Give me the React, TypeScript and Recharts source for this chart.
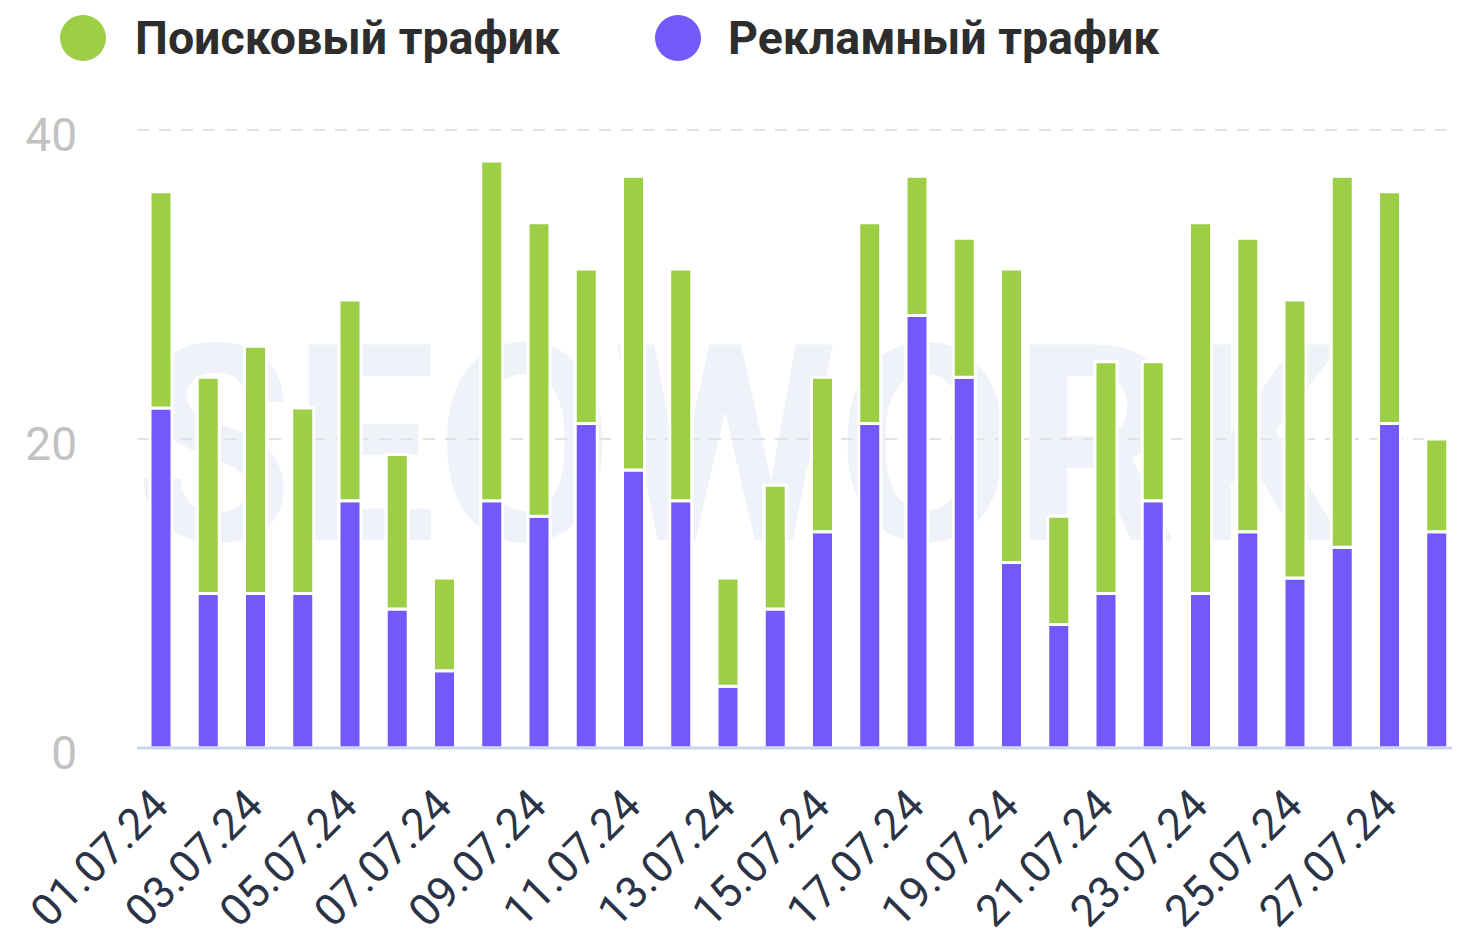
import React from "react";
import { BarChart, Bar, XAxis, YAxis, CartesianGrid, Legend } from "recharts";

const dates = [
  "01.07.24", "02.07.24", "03.07.24", "04.07.24", "05.07.24", "06.07.24", "07.07.24",
  "08.07.24", "09.07.24", "10.07.24", "11.07.24", "12.07.24", "13.07.24", "14.07.24",
  "15.07.24", "16.07.24", "17.07.24", "18.07.24", "19.07.24", "20.07.24", "21.07.24",
  "22.07.24", "23.07.24", "24.07.24", "25.07.24", "26.07.24", "27.07.24", "28.07.24",
];
const adTraffic = [22, 10, 10, 10, 16, 9, 5, 16, 15, 21, 18, 16, 4, 9, 14, 21, 28, 24, 12, 8, 10, 16, 10, 14, 11, 13, 21, 14];
const searchTraffic = [14, 14, 16, 12, 13, 10, 6, 22, 19, 10, 19, 15, 7, 8, 10, 13, 9, 9, 19, 7, 15, 9, 24, 19, 18, 24, 15, 6];
const yTicks = [0, 20, 40];

const GREEN = "#9CCE46";
const PURPLE = "#7159FB";
const FONT = "Roboto, 'Noto Sans', sans-serif";

const data = dates.map((d, i) => ({ date: d, ad: adTraffic[i], search: searchTraffic[i] }));

const legendItems = [
  { name: "Поисковый трафик", color: GREEN, left: 60, textLeft: 135 },
  { name: "Рекламный трафик", color: PURPLE, left: 655, textLeft: 728 },
];

const LegendContent = () => (
  <div style={{ position: "relative", width: 1460, height: 80 }}>
    {legendItems.map((it) => (
      <React.Fragment key={it.name}>
        <div
          style={{
            position: "absolute",
            left: it.left,
            top: 15,
            width: 46,
            height: 46,
            borderRadius: "50%",
            background: it.color,
          }}
        />
        <div
          style={{
            position: "absolute",
            left: it.textLeft,
            top: 8,
            fontFamily: FONT,
            fontWeight: 700,
            fontSize: 46.5,
            lineHeight: "60px",
            color: "#2d2d2d",
            whiteSpace: "nowrap",
          }}
        >
          {it.name}
        </div>
      </React.Fragment>
    ))}
  </div>
);

const XTick = (props: any) => {
  const { x, y, payload } = props;
  return (
    <g transform={`translate(${x + 10},${y + 52})`}>
      <text
        x={0}
        y={0}
        textAnchor="end"
        transform="rotate(-45)"
        fill="#2B3446"
        fontSize={44}
        fontFamily={FONT}
      >
        {payload.value}
      </text>
    </g>
  );
};

export default function App() {
  return (
    <div style={{ position: "relative", width: 1460, height: 941, margin: -8, background: "#fff", overflow: "hidden" }}>
      <div
        style={{
          position: "absolute",
          left: 0,
          top: 0,
          width: 1460,
          height: 941,
          pointerEvents: "none",
        }}
      >
        <svg width={1460} height={941}>
          <text
            x={135}
            y={540}
            textLength={1205}
            lengthAdjust="spacingAndGlyphs"
            fontSize={275}
            fontWeight={700}
            fontFamily={FONT}
            fill="#EFF2F8"
          >
            SEOWORK
          </text>
        </svg>
      </div>
      <div style={{ position: "absolute", left: 0, top: 0 }}>
        <BarChart
          width={1460}
          height={941}
          data={data}
          margin={{ top: 50, right: 0, bottom: 0, left: 0 }}
          barCategoryGap={0}
        >
          <CartesianGrid
            vertical={false}
            stroke="#E2E2E2"
            strokeWidth={2}
            strokeDasharray="12 10"
            horizontalValues={[20, 40]}
          />
          <Legend
            verticalAlign="top"
            align="left"
            wrapperStyle={{ position: "absolute", top: 0, left: 0, width: 1460, height: 80 }}
            content={<LegendContent />}
          />
          <XAxis
            dataKey="date"
            interval={1}
            height={193}
            tickLine={false}
            axisLine={{ stroke: "#CDD5EC", strokeWidth: 3 }}
            tick={<XTick />}
          />
          <YAxis
            domain={[0, 40]}
            ticks={yTicks}
            width={137}
            axisLine={false}
            tickLine={false}
            tickSize={0}
            tickMargin={60}
            tick={{ fill: "#C2C2C2", fontSize: 46, fontFamily: FONT, dy: 5 }}
          />
          <Bar dataKey="ad" stackId="a" fill={PURPLE} stroke="#fff" strokeWidth={3} barSize={22} isAnimationActive={false} />
          <Bar dataKey="search" stackId="a" fill={GREEN} stroke="#fff" strokeWidth={3} barSize={22} isAnimationActive={false} />
        </BarChart>
      </div>
    </div>
  );
}
